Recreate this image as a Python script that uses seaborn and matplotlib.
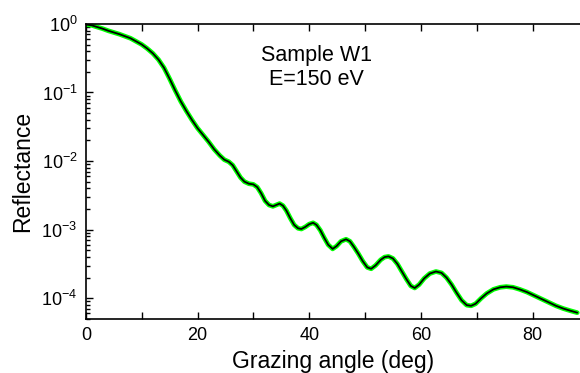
import numpy as np
import pandas as pd
import matplotlib
matplotlib.use("Agg")
import matplotlib.pyplot as plt
import seaborn as sns
from matplotlib.ticker import LogLocator, MultipleLocator

# Data (angle in deg, log10 reflectance)
angle = [0, 1, 2, 3, 4, 5, 6, 7, 8, 9, 10, 11, 12, 13, 14, 15, 16, 17, 18,
         19, 20, 21, 22, 23, 24, 24.8, 25.6, 26.3, 27.0, 27.7, 28.4, 29.2,
         30.0, 30.7, 31.4, 32.1, 32.8, 33.5, 34.1, 34.7, 35.3, 35.9, 36.6,
         37.3, 38.0, 38.6, 39.3, 40.0, 40.7, 41.3, 42.0, 42.7, 43.4, 44.2,
         44.9, 45.7, 46.6, 47.3, 48.0, 48.8, 49.6, 50.4, 51.1, 51.9, 52.8,
         53.5, 54.2, 55.0, 55.8, 56.6, 57.4, 58.2, 58.9, 59.7, 60.6, 61.6,
         62.7, 63.7, 64.6, 65.5, 66.4, 67.3, 68.2, 69.0, 69.8, 70.8, 71.8,
         73.0, 74.2, 75.3, 76.5, 77.7, 79.0, 80.3, 81.6, 82.9, 84.2, 85.5,
         86.7, 88.0]
log_refl = [-0.01, -0.02, -0.045, -0.07, -0.10, -0.125, -0.15, -0.18, -0.21,
            -0.255, -0.30, -0.36, -0.43, -0.52, -0.64, -0.80, -0.97, -1.13,
            -1.27, -1.40, -1.52, -1.62, -1.72, -1.83, -1.92, -1.98, -2.01,
            -2.06, -2.15, -2.24, -2.30, -2.33, -2.34, -2.38, -2.47, -2.58,
            -2.64, -2.66, -2.64, -2.62, -2.65, -2.72, -2.83, -2.93, -2.98,
            -2.99, -2.96, -2.92, -2.90, -2.93, -3.01, -3.12, -3.22, -3.28,
            -3.24, -3.17, -3.14, -3.17, -3.25, -3.35, -3.46, -3.55, -3.57,
            -3.52, -3.44, -3.40, -3.39, -3.42, -3.50, -3.61, -3.72, -3.82,
            -3.85, -3.80, -3.71, -3.64, -3.61, -3.63, -3.70, -3.80, -3.92,
            -4.03, -4.10, -4.11, -4.08, -4.00, -3.93, -3.87, -3.84, -3.83,
            -3.84, -3.87, -3.91, -3.96, -4.01, -4.06, -4.11, -4.15, -4.18,
            -4.21]

measured = [10 ** v for v in log_refl]
fitted = [10 ** v for v in log_refl]

df = pd.DataFrame({"angle": angle, "measured": measured, "fit": fitted})

sns.set_style("ticks")
plt.rcParams["font.family"] = ["Liberation Sans", "DejaVu Sans"]
plt.rcParams["mathtext.fontset"] = "custom"
plt.rcParams["mathtext.rm"] = "Liberation Sans"
plt.rcParams["mathtext.it"] = "Liberation Sans:italic"
plt.rcParams["text.color"] = "black"
plt.rcParams["axes.labelcolor"] = "black"

fig = plt.figure(figsize=(5.8, 3.73), dpi=100)
ax = fig.add_axes([0.148, 0.145, 0.852, 0.791])

sns.lineplot(data=df, x="angle", y="measured", ax=ax, color="#00ff00",
             linewidth=3.4, legend=False)
sns.lineplot(data=df, x="angle", y="fit", ax=ax, color="black",
             linewidth=1.3, legend=False)

ax.set_yscale("log")
ax.set_xlim(0, 88.5)
ax.set_ylim(5e-5, 1.0)

ax.xaxis.set_major_locator(MultipleLocator(20))
ax.xaxis.set_minor_locator(MultipleLocator(10))
ax.yaxis.set_major_locator(LogLocator(base=10, numticks=10))
ax.yaxis.set_minor_locator(LogLocator(base=10, subs=np.arange(2, 10), numticks=20))

ax.tick_params(axis="both", which="both", direction="in", top=True,
               right=False, labelsize=13, width=1.0, colors="black", pad=6)
ax.tick_params(which="major", length=5)
ax.tick_params(which="minor", length=3)
ax.tick_params(axis="x", which="minor", length=5)

for s in ["left", "bottom", "top"]:
    ax.spines[s].set_visible(True)
    ax.spines[s].set_linewidth(1.2)
    ax.spines[s].set_color("black")
ax.spines["right"].set_visible(False)

ax.set_xlabel("Grazing angle (deg)", fontsize=16.5, labelpad=4)
ax.set_ylabel("Reflectance", fontsize=16.5, labelpad=5)

ax.text(0.466, 0.853, "Sample W1\nE=150 eV", transform=ax.transAxes,
        ha="center", va="center", fontsize=15.5, linespacing=1.16)

fig.savefig("out.png", dpi=100)
